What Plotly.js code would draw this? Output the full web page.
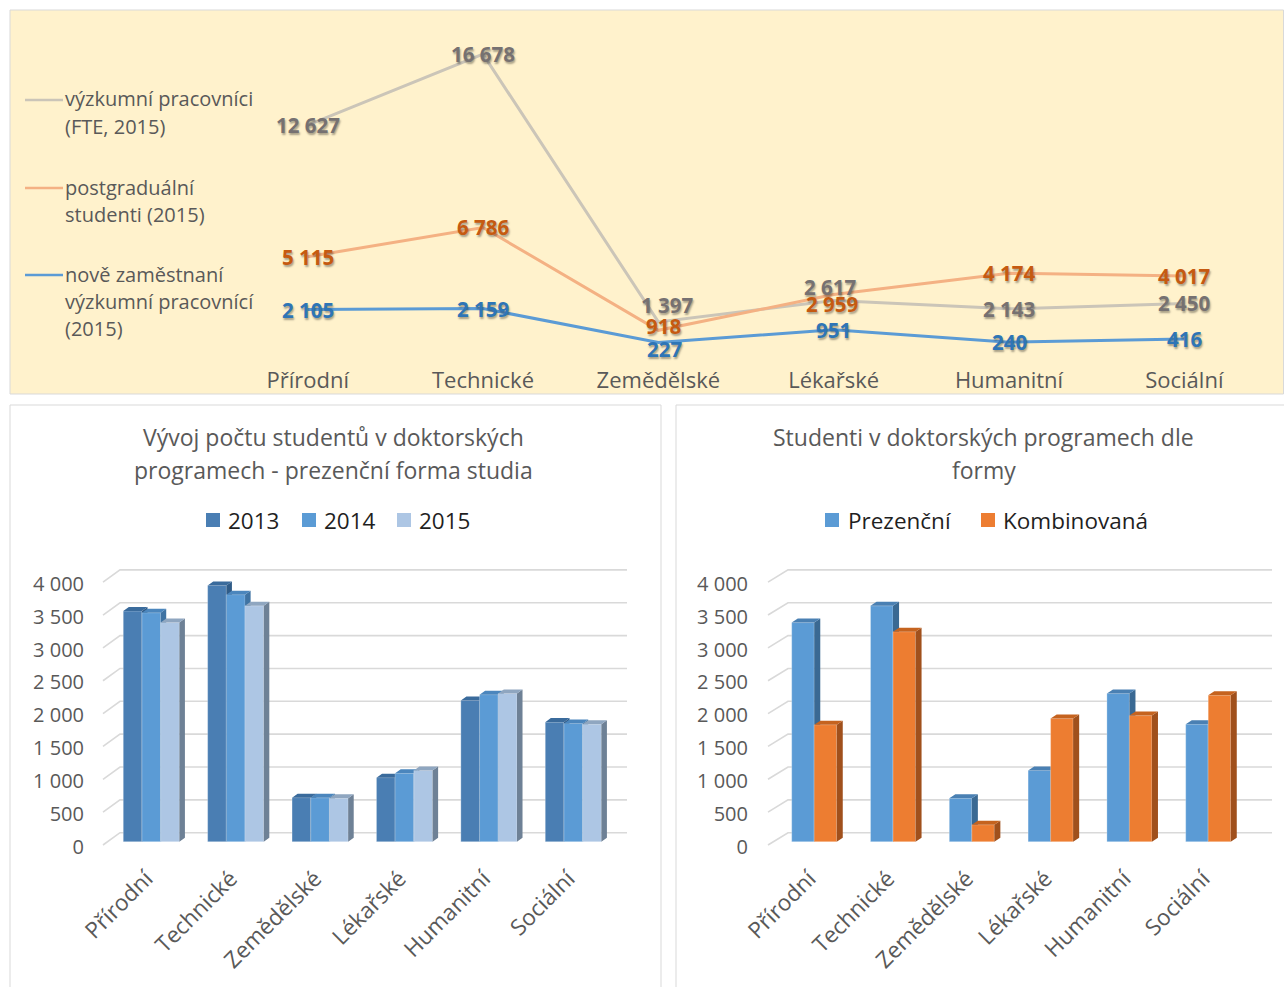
<!DOCTYPE html>
<html>
<head>
<meta charset="utf-8">
<script src="https://cdn.plot.ly/plotly-3.0.1.min.js"></script>
<style>
  html, body { margin: 0; padding: 0; background: #ffffff; }
  #chart { width: 1284px; height: 987px; }
</style>
</head>
<body>
<div id="chart"></div>
<script>
// ---- data -------------------------------------------------------------
const fields = ['Přírodní', 'Technické', 'Zemědělské', 'Lékařské', 'Humanitní', 'Sociální'];

// top panel: researchers, postgraduate students, newly hired researchers
const researchersFte2015 = [12627, 16678, 1397, 2617, 2143, 2450];
const postgrad2015       = [5115, 6786, 918, 2959, 4174, 4017];
const newResearchers2015 = [2105, 2159, 227, 951, 240, 416];

// bottom-left: full-time doctoral students by year
const fullTime2013 = [3510, 3900, 670, 975, 2150, 1820];
const fullTime2014 = [3485, 3760, 668, 1040, 2238, 1800];
const fullTime2015 = [3335, 3590, 660, 1085, 2255, 1788];

// bottom-right: doctoral students by form of study
const formFullTime = [3335, 3590, 660, 1085, 2255, 1788];
const formCombined = [1780, 3196, 258, 1874, 1919, 2229];

const yTicks = [0, 500, 1000, 1500, 2000, 2500, 3000, 3500, 4000];

// ---- helpers ----------------------------------------------------------
const W = 1284, H = 987;
const fx = px => px / W;
const fy = px => 1 - px / H;
const fmt = n => String(n).replace(/\B(?=(\d{3})+(?!\d))/g, ' ');
const FONT = 'Open Sans, Lato, sans-serif';
const idx = fields.map((_, i) => i);

const traces = [];
const annotations = [];
const shapes = [];

// ---- top panel --------------------------------------------------------
const lineSeries = [
  { name: 'výzkumní pracovníci (FTE, 2015)', vals: researchersFte2015, line: '#CBC5B8', label: '#767171',
    dx: [0, 0, 9, -4, 0, 0], dy: [0, 0, 17, 14, 0, 0] },
  { name: 'postgraduální studenti (2015)', vals: postgrad2015, line: '#F4B183', label: '#C55A11',
    dx: [0, 0, 5, -2, 0, 0], dy: [0, 0, 4, -9, 0, 0] },
  { name: 'nově zaměstnaní výzkumní pracovnící (2015)', vals: newResearchers2015, line: '#5B9BD5', label: '#2E75B6',
    dx: [0, 0, 6, 0, 0, 0], dy: [0, 0, -7, 0, 0, 0] }
];

lineSeries.forEach(s => {
  traces.push({
    type: 'scatter', mode: 'lines', x: fields, y: s.vals, name: s.name,
    line: { color: s.line, width: 3 }, xaxis: 'x', yaxis: 'y',
    showlegend: false, hoverinfo: 'skip'
  });
});
// value labels drawn after the lines
lineSeries.forEach(s => {
  s.vals.forEach((v, i) => {
    annotations.push({
      xref: 'x', yref: 'y', x: fields[i], y: v, text: fmt(v), showarrow: false,
      xanchor: 'center', yanchor: 'middle', xshift: s.dx[i], yshift: s.dy[i],
      font: { family: FONT, size: 20.5, color: s.label, weight: 'bold',
              shadow: '1px 2px 2px rgba(0,0,0,0.35)' }
    });
  });
});

// legend of the top panel
const topLegend = [
  { lines: ['výzkumní pracovníci', '(FTE, 2015)'], y: 100, color: '#CBC5B8' },
  { lines: ['postgraduální', 'studenti (2015)'], y: 188, color: '#F4B183' },
  { lines: ['nově zaměstnaní', 'výzkumní pracovnící', '(2015)'], y: 275, color: '#5B9BD5' }
];
topLegend.forEach(e => {
  shapes.push({ type: 'line', xref: 'paper', yref: 'paper', x0: fx(25), x1: fx(63), y0: fy(e.y), y1: fy(e.y),
                line: { color: e.color, width: 2.5 } });
  e.lines.forEach((t, j) => {
    annotations.push({ xref: 'paper', yref: 'paper', x: fx(62.5), y: fy(e.y - 1 + j * 27.5), xanchor: 'left',
                       yanchor: 'middle', align: 'left', showarrow: false, text: t,
                       font: { family: FONT, size: 20, color: '#595959' } });
  });
});

// ---- 3D-look column charts ------------------------------------------
function columnChart(cfg) {
  const { xa, ya, series, width, offsets, depthX, depthY, grid } = cfg;
  // floor / wall grid
  const gx = [], gy = [];
  yTicks.forEach(t => {
    gx.push(grid.front, grid.back, grid.end, null);
    gy.push(t - 50, t + 137, t + 137, null);
  });
  traces.push({ type: 'scatter', mode: 'lines', x: gx, y: gy, xaxis: xa, yaxis: ya,
                line: { color: '#D9D9D9', width: 1.6 }, hoverinfo: 'skip', showlegend: false, zorder: -1 });

  series.forEach((s, k) => {
    const off = offsets[k];
    // front faces
    traces.push({ type: 'bar', x: idx, y: s.vals, width: width, offset: off, name: s.name,
                  xaxis: xa, yaxis: ya, marker: { color: s.front, line: { width: 0.6, color: 'rgba(255,255,255,0.45)' } },
                  showlegend: false, hoverinfo: 'skip', zorder: k });
    // side and top faces, built from the same values
    const sx = [], sy = [], tx = [], ty = [];
    s.vals.forEach((v, i) => {
      const L = i + off, R = L + width;
      sx.push(R, R + depthX, R + depthX, R, R, null);
      sy.push(0, depthY, v + depthY, v, 0, null);
      tx.push(L, R, R + depthX, L + depthX, L, null);
      ty.push(v, v, v + depthY, v + depthY, v, null);
    });
    traces.push({ type: 'scatter', mode: 'lines', x: sx, y: sy, fill: 'toself', fillcolor: s.side,
                  line: { width: 0, color: s.side }, xaxis: xa, yaxis: ya, hoverinfo: 'skip', showlegend: false, zorder: k });
    traces.push({ type: 'scatter', mode: 'lines', x: tx, y: ty, fill: 'toself', fillcolor: s.top,
                  line: { width: 0, color: s.top }, xaxis: xa, yaxis: ya, hoverinfo: 'skip', showlegend: false, zorder: k });
  });
}

const leftSeries = [
  { name: '2013', vals: fullTime2013, front: '#4A7EB3', side: '#2F5B87', top: '#3A6B9C' },
  { name: '2014', vals: fullTime2014, front: '#5B9BD5', side: '#3F73A3', top: '#4B86BD' },
  { name: '2015', vals: fullTime2015, front: '#ADC6E4', side: '#6E8196', top: '#8FA6C0' }
];
const rightSeries = [
  { name: 'Prezenční', vals: formFullTime, front: '#5B9BD5', side: '#3A6993', top: '#4A80B3' },
  { name: 'Kombinovaná', vals: formCombined, front: '#ED7D31', side: '#A0501C', top: '#C5631F' }
];

// chart geometry (pixels): category spacing and first category centre
const L0 = 151.3, LS = 84.4;
const R0 = 814.2, RS = 78.8;
const yBase = 841.7, yPer = 0.0657; // px per unit
const yRange = [-250, 4500];
const yDom = [fy(yBase - yRange[0] * yPer), fy(yBase - yRange[1] * yPer)];

columnChart({ xa: 'x2', ya: 'y2', series: leftSeries, width: 0.2216, offsets: [-0.3324, -0.1108, 0.1108],
              depthX: 0.066, depthY: 61,
              grid: { front: (103 - L0) / LS, back: (120 - L0) / LS, end: (627 - L0) / LS } });
columnChart({ xa: 'x3', ya: 'y3', series: rightSeries, width: 0.2855, offsets: [-0.2855, 0],
              depthX: 0.077, depthY: 61,
              grid: { front: (768 - R0) / RS, back: (788 - R0) / RS, end: (1272 - R0) / RS } });

// panel titles and legends
function title(cx, lines) {
  lines.forEach((t, j) => {
    annotations.push({ xref: 'paper', yref: 'paper', x: fx(cx), y: fy(437 + j * 33), xanchor: 'center',
                       yanchor: 'middle', showarrow: false, text: t,
                       font: { family: FONT, size: 23, color: '#595959' } });
  });
}
title(334, ['Vývoj počtu studentů v doktorských', 'programech - prezenční forma studia']);
title(983.5, ['Studenti v doktorských programech dle', 'formy']);

function boxLegend(items) {
  items.forEach(it => {
    shapes.push({ type: 'rect', xref: 'paper', yref: 'paper', x0: fx(it.sq - 7), x1: fx(it.sq + 7),
                  y0: fy(527), y1: fy(513), fillcolor: it.color, line: { width: 0 } });
    annotations.push({ xref: 'paper', yref: 'paper', x: fx(it.tx), y: fy(520), xanchor: 'left', yanchor: 'middle',
                       showarrow: false, text: it.text, font: { family: FONT, size: 22.5, color: '#1F1F1F' } });
  });
}
boxLegend([
  { sq: 213, tx: 226, text: leftSeries[0].name, color: leftSeries[0].front },
  { sq: 309, tx: 322, text: leftSeries[1].name, color: leftSeries[1].front },
  { sq: 404, tx: 417, text: leftSeries[2].name, color: leftSeries[2].front }
]);
boxLegend([
  { sq: 832, tx: 846, text: rightSeries[0].name, color: rightSeries[0].front },
  { sq: 988, tx: 1001, text: rightSeries[1].name, color: rightSeries[1].front }
]);

// panel frames
shapes.unshift(
  { type: 'rect', xref: 'paper', yref: 'paper', layer: 'below', x0: fx(10), x1: fx(1283.5), y0: fy(394), y1: fy(10),
    fillcolor: '#FFF2CC', line: { color: '#D9D9D9', width: 1 } },
  { type: 'rect', xref: 'paper', yref: 'paper', layer: 'below', x0: fx(10), x1: fx(661), y0: fy(995), y1: fy(405),
    fillcolor: '#FFFFFF', line: { color: '#D9D9D9', width: 1 } },
  { type: 'rect', xref: 'paper', yref: 'paper', layer: 'below', x0: fx(676), x1: fx(1292), y0: fy(995), y1: fy(405),
    fillcolor: '#FFFFFF', line: { color: '#D9D9D9', width: 1 } }
);

// value-axis labels sit at the front edge of the floor, slightly below the wall grid
const frontDrop = 75;
const tickPos = yTicks.map(t => t - frontDrop);
const tickText = yTicks.map(fmt);
const layout = {
  width: W, height: H, margin: { l: 0, r: 0, t: 0, b: 0 },
  paper_bgcolor: '#FFFFFF', plot_bgcolor: 'rgba(0,0,0,0)', showlegend: false,
  font: { family: FONT, color: '#595959' },
  xaxis: { domain: [fx(220), fx(1272)], anchor: 'y', type: 'category', range: [-0.5, 5.5],
           showline: true, linecolor: '#D9D9D9', linewidth: 1.5, ticks: '', showgrid: false, zeroline: false,
           tickfont: { family: FONT, size: 22, color: '#595959' }, ticklabelstandoff: 14, fixedrange: true },
  yaxis: { domain: [fy(346.4), fy(31)], anchor: 'x', range: [0, 18000], visible: false, fixedrange: true },
  xaxis2: { domain: [fx(L0 - 0.8 * LS), fx(L0 + 5.8 * LS)], anchor: 'y2', range: [-0.8, 5.8],
            tickvals: idx, ticktext: fields, tickangle: -45, ticks: '', showgrid: false, zeroline: false,
            showline: false, ticklabelshift: -5, ticklabelstandoff: 2,
            tickfont: { family: FONT, size: 22.5, color: '#595959' }, fixedrange: true },
  yaxis2: { domain: yDom, anchor: 'free', position: fx(84), range: yRange, tickvals: tickPos, ticktext: tickText,
            ticks: '', showgrid: false, zeroline: false, showline: false,
            tickfont: { family: FONT, size: 20, color: '#595959' }, fixedrange: true },
  xaxis3: { domain: [fx(R0 - 0.8 * RS), fx(R0 + 5.85 * RS)], anchor: 'y3', range: [-0.8, 5.85],
            tickvals: idx, ticktext: fields, tickangle: -45, ticks: '', showgrid: false, zeroline: false,
            showline: false, ticklabelshift: -5, ticklabelstandoff: 2,
            tickfont: { family: FONT, size: 22.5, color: '#595959' }, fixedrange: true },
  yaxis3: { domain: yDom, anchor: 'free', position: fx(748), range: yRange, tickvals: tickPos, ticktext: tickText,
            ticks: '', showgrid: false, zeroline: false, showline: false,
            tickfont: { family: FONT, size: 20, color: '#595959' }, fixedrange: true },
  bargap: 0,
  shapes: shapes,
  annotations: annotations
};

Plotly.newPlot('chart', traces, layout, { displayModeBar: false, staticPlot: true });
</script>
</body>
</html>
